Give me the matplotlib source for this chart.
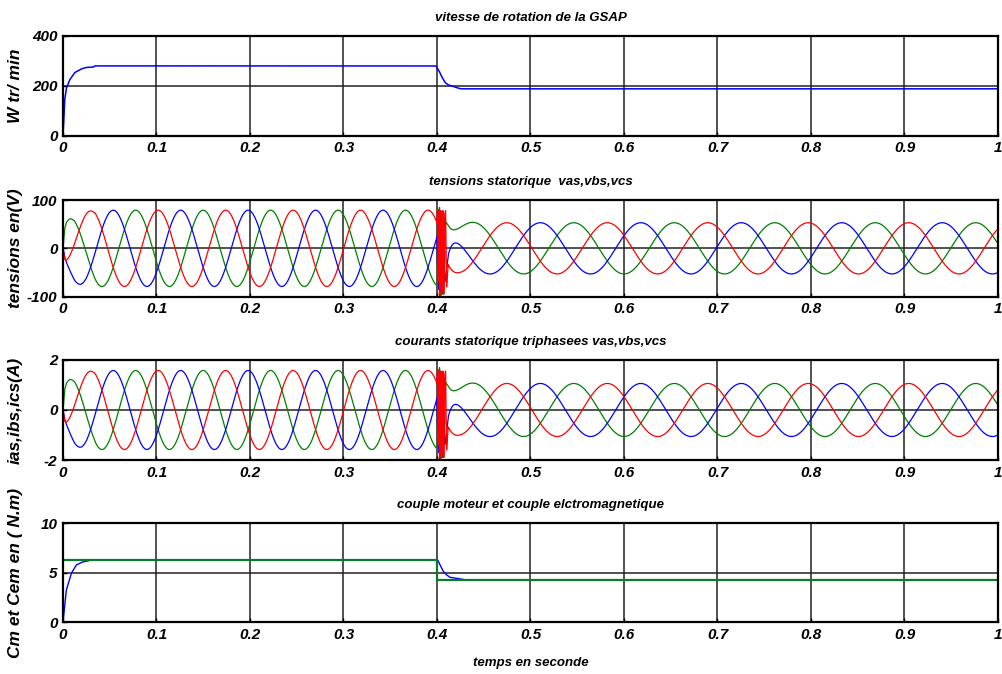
import numpy as np
import matplotlib.pyplot as plt
from matplotlib import font_manager

# ---------------------- valeurs ----------------------
# vitesse de la GSAP (tr/min)
speed_t = [0, 0.0005, 0.0018, 0.0036, 0.0071, 0.0125, 0.0197, 0.025, 0.0325, 0.034,
           0.399, 0.4026, 0.405, 0.4087, 0.412, 0.4176, 0.423, 0.426, 1.0]
speed_n = [0, 30, 143, 190, 224, 253, 268, 274, 275, 280,
           280, 257, 237, 213, 204, 197, 190, 188, 188]

# couple moteur Cm et couple electromagnetique Cem (N.m)
cm_t = [0, 0.4, 0.4, 1.0]
cm_val = [6.3, 6.3, 4.27, 4.27]
cem_t = [0, 0.0036, 0.009, 0.0143, 0.0214, 0.0268, 0.03, 0.4,
         0.4008, 0.4033, 0.407, 0.4104, 0.414, 0.421, 0.43, 1.0]
cem_val = [0, 3.26, 4.95, 5.8, 6.1, 6.2, 6.3, 6.3,
           6.29, 5.79, 5.11, 4.78, 4.54, 4.44, 4.3, 4.3]

# grandeurs electriques
hz_per_rpm = 0.0495          # frequence / vitesse
volt_per_rpm = 79.0 / 280.0  # amplitude tension / vitesse
r_charge = 50.0              # tension / courant
t_peak_va = [0.0296, 0.4747]  # crete de va avant et apres 0.4 s

# regime perturbe juste apres 0.4 s (tensions en V)
burst_t = [0.4006, 0.4013, 0.4020, 0.4027, 0.4034, 0.4041, 0.4048,
           0.4056, 0.4064, 0.4073, 0.4082, 0.4092, 0.4103]
burst_va = [82, -70, 80, -96, 78, -98, 75, -90, 78, -95, 70, 78, -80]
burst_vb = [-30, 55, -85, 70, -98, 65, -95, 60, -60, 40, -70, -60, -45]
burst_vc = [-60, 70, -80, 85, -98, 78, -90, 72, -95, 65, -30, 55, 52]
# composante transitoire apres la perturbation
off_t0 = 0.412
off_v = [15, -65, 50]
off_tau = 0.0065

# ---------------------- calcul des courbes ----------------------
t = np.linspace(0, 1, 40001)
dt = t[1] - t[0]
n = np.interp(t, speed_t, speed_n)
theta = 2 * np.pi * hz_per_rpm * np.cumsum(n) * dt
amp = volt_per_rpm * n
phi = np.where(t < 0.4,
               -np.interp(t_peak_va[0], t, theta),
               -np.interp(t_peak_va[1], t, theta))
shifts = [0, -2 * np.pi / 3, 2 * np.pi / 3]
decay = np.where(t >= off_t0, np.exp(-(t - off_t0) / off_tau), 0.0)

volts = []
mask = (t >= 0.4) & (t <= off_t0)
i0 = np.searchsorted(t, 0.4) - 1
i1 = np.searchsorted(t, off_t0) + 1
for s, off, b in zip(shifts, off_v, [burst_va, burst_vb, burst_vc]):
    v = amp * np.cos(theta + phi + s) + off * decay
    bt = [t[i0]] + burst_t + [t[i1]]
    bv = [v[i0]] + b + [v[i1]]
    v[mask] = np.interp(t[mask], bt, bv)
    volts.append(v)
currents = [v / r_charge for v in volts]

# ---------------------- trace ----------------------
plt.rcParams['axes.unicode_minus'] = False
names = {f.name for f in font_manager.fontManager.ttflist}
if 'Liberation Sans Narrow' in names:
    narrow = ['Liberation Sans Narrow', 'DejaVu Sans']
    fs_tick, fs_title = 12, 10.5
else:
    narrow = ['Liberation Sans', 'DejaVu Sans']
    fs_tick, fs_title = 11, 9.5
wide = ['Liberation Sans', 'DejaVu Sans']

fig = plt.figure(figsize=(10.03, 6.74), dpi=100)
pos = [[0.0628, 0.7987, 0.9322, 0.1479],
       [0.0628, 0.5599, 0.9322, 0.1433],
       [0.0628, 0.3175, 0.9322, 0.1484],
       [0.0628, 0.0767, 0.9322, 0.1469]]
axes = [fig.add_axes(p) for p in pos]

titles = ['vitesse de rotation de la GSAP',
          'tensions statorique  vas,vbs,vcs',
          'courants statorique triphasees vas,vbs,vcs',
          'couple moteur et couple elctromagnetique']
ylabels = ['W tr/ min', 'tensions en(V)', 'ias,ibs,ics(A)', 'Cm et Cem en ( N.m)']
ylims = [(0, 400), (-100, 100), (-2, 2), (0, 10)]
yticks = [[0, 200, 400], [-100, 0, 100], [-2, 0, 2], [0, 5, 10]]
cols = ['#ff0000', '#0000ff', '#008000']

axes[0].plot(t, n, color='#0000ff', lw=1.1)
for k in [2, 1, 0]:
    axes[1].plot(t, volts[k], color=cols[k], lw=0.9)
    axes[2].plot(t, currents[k], color=cols[k], lw=0.9)
axes[3].plot(cem_t, cem_val, color='#0000ff', lw=1.0)
axes[3].plot(cm_t, cm_val, color='#0b7a2a', lw=1.6)

for ax, ti, yl, lim, yt in zip(axes, titles, ylabels, ylims, yticks):
    ax.set_xlim(0, 1)
    ax.set_ylim(*lim)
    ax.set_xticks(np.arange(0, 1.01, 0.1))
    ax.set_xticklabels(['0', '0.1', '0.2', '0.3', '0.4', '0.5', '0.6', '0.7', '0.8', '0.9', '1'])
    ax.set_yticks(yt)
    ax.grid(True, color='#222222', lw=1.1, ls='-')
    ax.set_axisbelow(True)
    ax.tick_params(direction='in', length=3, width=1, pad=4, labelsize=fs_tick)
    for lab in ax.get_xticklabels() + ax.get_yticklabels():
        lab.set_family(narrow)
        lab.set_style('italic')
        lab.set_weight('bold')
    for sp in ax.spines.values():
        sp.set_linewidth(1.6)
    ax.set_title(ti, family=narrow, style='italic', weight='bold', fontsize=fs_title, pad=11)
    ax.set_ylabel(yl, family=wide, style='italic', weight='bold', fontsize=12.5)
    ax.yaxis.set_label_coords(-0.043, 0.5)

axes[3].set_xlabel('temps en seconde', family=narrow, style='italic', weight='bold',
                   fontsize=fs_title, labelpad=11)

fig.savefig('out.png', dpi=100)
